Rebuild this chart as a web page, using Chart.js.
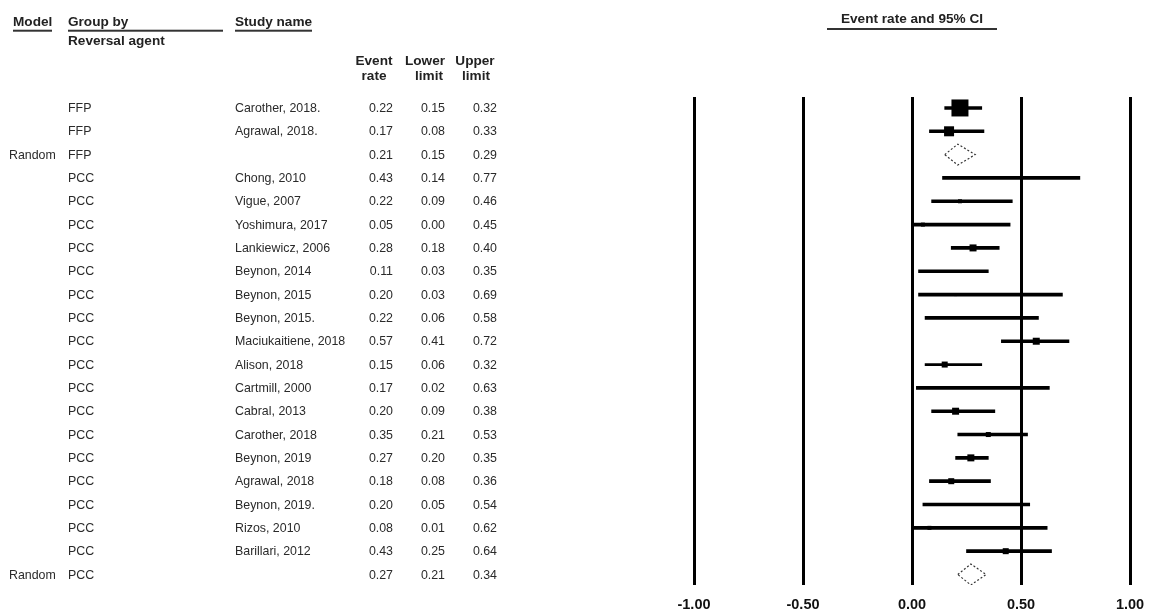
<!DOCTYPE html>
<html><head><meta charset="utf-8">
<script src="https://cdn.jsdelivr.net/npm/chart.js@4.4.1/dist/chart.umd.min.js"></script>
<style>
html,body{margin:0;padding:0;background:#fff;}
#wrap{position:relative;width:1151px;height:615px;overflow:hidden;background:#fff;}
canvas{position:absolute;left:0;top:0;}
#ov{position:absolute;left:0;top:0;width:1151px;height:615px;}
.t{position:absolute;white-space:nowrap;line-height:1;font-family:'Liberation Sans',Arial,sans-serif;}
.d{font-size:12.4px;color:#2a2a2a;}
.h{font-size:13.6px;font-weight:bold;color:#222;}
.ul{border-bottom:2px solid #333;padding-bottom:1px;}
</style></head><body>
<div id="wrap"><canvas id="c" width="1151" height="615"></canvas><div id="ov"></div></div>
<script>
// ---- data ----
const modelLabels = ['', '', 'Random', '', '', '', '', '', '', '', '', '', '', '', '', '', '', '', '', '', 'Random'];
const reversalAgent = ['FFP','FFP','FFP','PCC','PCC','PCC','PCC','PCC','PCC','PCC','PCC','PCC','PCC','PCC','PCC','PCC','PCC','PCC','PCC','PCC','PCC'];
const studyNames = ['Carother, 2018.','Agrawal, 2018.','','Chong, 2010','Vigue, 2007','Yoshimura, 2017','Lankiewicz, 2006','Beynon, 2014','Beynon, 2015','Beynon, 2015.','Maciukaitiene, 2018','Alison, 2018','Cartmill, 2000','Cabral, 2013','Carother, 2018','Beynon, 2019','Agrawal, 2018','Beynon, 2019.','Rizos, 2010','Barillari, 2012',''];
const eventRate  = [0.22,0.17,0.21,0.43,0.22,0.05,0.28,0.11,0.20,0.22,0.57,0.15,0.17,0.20,0.35,0.27,0.18,0.20,0.08,0.43,0.27];
const lowerLimit = [0.15,0.08,0.15,0.14,0.09,0.00,0.18,0.03,0.03,0.06,0.41,0.06,0.02,0.09,0.21,0.20,0.08,0.05,0.01,0.25,0.21];
const upperLimit = [0.32,0.33,0.29,0.77,0.46,0.45,0.40,0.35,0.69,0.58,0.72,0.32,0.63,0.38,0.53,0.35,0.36,0.54,0.62,0.64,0.34];
const summaryRows = [2, 20];
const xTicks = [-1, -0.5, 0, 0.5, 1];

// ---- styles (kept apart from data) ----
const boxSide = [17,10,0,2,4,4,7,2,3,2,7,6,2,7,5,7,6,3,4,6,0];
const thinCiRows = [11];

const rows = studyNames.map((_, i) => i);
const isSummary = i => summaryRows.includes(i);
const studyRows = rows.filter(i => !isSummary(i));

const datasets = [];
datasets.push({
  type: 'bar', indexAxis: 'y', order: 3, barThickness: 3, grouped: false,
  backgroundColor: '#000', borderWidth: 0,
  data: studyRows.filter(i => !thinCiRows.includes(i)).map(i => ({x: [lowerLimit[i], upperLimit[i]], y: i}))
});
datasets.push({
  type: 'bar', indexAxis: 'y', order: 3, barThickness: 2, grouped: false,
  backgroundColor: '#000', borderWidth: 0,
  data: studyRows.filter(i => thinCiRows.includes(i)).map(i => ({x: [lowerLimit[i], upperLimit[i]], y: i}))
});
datasets.push({
  type: 'scatter', order: 1, pointStyle: 'rect', backgroundColor: '#000', borderWidth: 0,
  pointRadius: studyRows.map(i => boxSide[i] / Math.SQRT2),
  data: studyRows.map(i => ({x: eventRate[i], y: i}))
});
summaryRows.forEach(i => {
  const h = 0.45;
  datasets.push({
    type: 'scatter', order: 0, showLine: true, tension: 0, fill: false,
    borderColor: '#333', borderWidth: 1.2, borderDash: [2, 2], pointRadius: 0,
    data: [
      {x: lowerLimit[i], y: i}, {x: eventRate[i], y: i - h},
      {x: upperLimit[i], y: i}, {x: eventRate[i], y: i + h},
      {x: lowerLimit[i], y: i}
    ]
  });
});

const chart = new Chart(document.getElementById('c'), {
  type: 'scatter',
  data: { datasets },
  options: {
    responsive: false, animation: false, events: [], devicePixelRatio: 1,
    layout: { padding: { left: 694, right: 21, top: 97, bottom: 0 } },
    plugins: { legend: { display: false }, tooltip: { enabled: false } },
    scales: {
      x: {
        type: 'linear', position: 'bottom', min: -1, max: 1,
        border: { display: false },
        grid: { color: '#000', lineWidth: 3, drawTicks: false },
        afterBuildTicks: s => { s.ticks = xTicks.map(v => ({value: v})); },
        afterFit: s => { s.height = 30; s.paddingLeft = 0; s.paddingRight = 0; },
        ticks: { padding: 11, color: '#111', font: { family: 'Liberation Sans', size: 14.5, weight: 'bold' },
                 callback: v => Number(v).toFixed(2) }
      },
      y: {
        type: 'linear', display: false, reverse: true, min: -0.47, max: 20.45,
        offset: false, grid: { display: false, offset: false }
      }
    }
  }
});

// ---- text overlay (table) ----
const ov = document.getElementById('ov');
function addText(txt, x, y, cls, align) {
  const d = document.createElement('div');
  d.className = 't ' + cls;
  d.textContent = txt;
  d.style.left = x + 'px';
  d.style.top = y + 'px';
  const tx = align === 'right' ? '-100%' : align === 'center' ? '-50%' : '0';
  d.style.transform = 'translate(' + tx + ',-50%)';
  ov.appendChild(d);
  return d;
}
const ys = chart.scales.y;
rows.forEach(i => {
  const y = ys.getPixelForValue(i);
  if (modelLabels[i]) addText(modelLabels[i], 9, y, 'd', 'left');
  addText(reversalAgent[i], 68, y, 'd', 'left');
  if (studyNames[i]) addText(studyNames[i], 235, y, 'd', 'left');
  addText(eventRate[i].toFixed(2), 393, y, 'd', 'right');
  addText(lowerLimit[i].toFixed(2), 445, y, 'd', 'right');
  addText(upperLimit[i].toFixed(2), 497, y, 'd', 'right');
});
// headers
addText('Model', 13, 23, 'h ul', 'left');
const g = addText('Group by', 68, 23, 'h ul', 'left'); g.style.width = '155px';
addText('Study name', 235, 23, 'h ul', 'left');
addText('Reversal agent', 68, 41, 'h', 'left');
addText('Event', 374, 61, 'h', 'center');
addText('rate', 374, 76, 'h', 'center');
addText('Lower', 425, 61, 'h', 'center');
addText('limit', 429, 76, 'h', 'center');
addText('Upper', 475, 61, 'h', 'center');
addText('limit', 476, 76, 'h', 'center');
addText('Event rate and 95% CI', 912, 19, 'h', 'center');
const line = document.createElement('div');
line.style.cssText = 'position:absolute;left:827px;top:28px;width:170px;height:2px;background:#333;';
ov.appendChild(line);
</script>
</body></html>
